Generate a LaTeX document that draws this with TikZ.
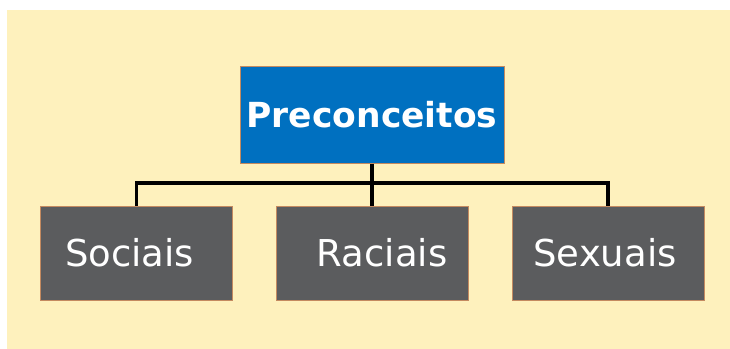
\documentclass[tikz,border=0pt]{standalone}
\usepackage{fontspec}
\setmainfont{DejaVu Sans}
\usepackage{tikz}
\usetikzlibrary{calc}

\definecolor{bgyellow}{RGB}{254,241,189}
\definecolor{topblue}{RGB}{0,112,192}
\definecolor{boxgrey}{RGB}{91,92,94}
\definecolor{edgebrown}{RGB}{196,138,96}

\begin{document}
\begin{tikzpicture}[x=1pt,y=1pt,yscale=-1,
    topbox/.style={draw=edgebrown,fill=topblue,line width=1pt,text=white,
        minimum width=264pt,minimum height=97pt,inner sep=0pt,
        font=\fontsize{34.5}{40}\selectfont\bfseries},
    catbox/.style={draw=edgebrown,fill=boxgrey,line width=1pt,text=white,
        minimum width=192pt,minimum height=94pt,inner sep=0pt,
        font=\fontsize{37}{40}\selectfont},
    conn/.style={draw=black,line width=3.5pt}]
    \useasboundingbox (0,0) rectangle (730,348);

    %Shape: Rectangle (background)
    \fill [bgyellow] (7,10) rectangle (731,349);

    % Top Node
    \node [topbox] (prec) at (372,114.5) {Preconceitos};
    % Category Nodes
    \node [catbox] (soc) at (136.5,253) {Sociais\hspace*{14pt}};
    \node [catbox] (rac) at (372,253) {\hspace*{20pt}Raciais};
    \node [catbox] (sex) at (608,253) {Sexuais\hspace*{6pt}};

    % Connectors
    \coordinate (bus) at (372,183);
    \draw [conn] (soc.north) |- (bus) -| (sex.north);
    \draw [conn] (prec.south) -- (rac.north);
\end{tikzpicture}
\end{document}
